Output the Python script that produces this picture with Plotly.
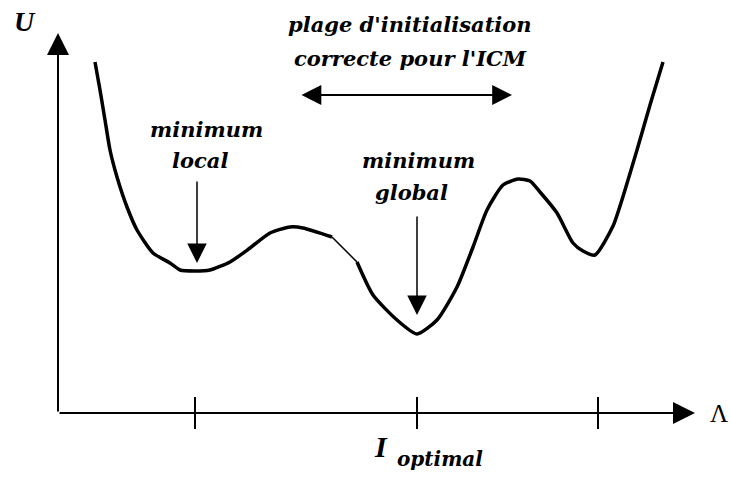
import plotly.graph_objects as go

# Energy curve U(Λ) — left branch, thin connecting segment, right branch
left_x = [37, 42, 47, 52, 59, 69, 79, 95, 112, 122, 137, 152, 172, 192, 212, 232, 245, 274]
left_u = [351, 323, 293, 263, 236, 206, 183, 160, 150, 143, 142, 143, 151, 165, 180, 186, 185, 176]
thin_x = [274, 299]
thin_u = [176, 151]
right_x = [299, 315, 339, 359, 379, 399, 415, 429, 445, 460, 472, 482, 499, 515, 525, 537,
           555, 567, 579, 592, 605]
right_u = [151, 118, 93, 79, 93, 126, 166, 203, 228, 234, 232, 221, 200, 170, 162, 158,
           187, 223, 263, 308, 351]

tick_positions = [137, 359, 540]
lambda_local_min = 139
lambda_global_min = 359
init_range = [242, 454]

SERIF = "Liberation Serif"
WIDE = "DejaVu Serif"
fig = go.Figure()

for xs, us, w in [(left_x, left_u, 3.5), (thin_x, thin_u, 1.5), (right_x, right_u, 3.5)]:
    fig.add_trace(go.Scatter(x=xs, y=us, mode="lines",
                             line=dict(color="black", width=w, shape="spline", smoothing=0.6),
                             hoverinfo="skip", showlegend=False))

fig.add_trace(go.Scatter(x=tick_positions, y=[0] * len(tick_positions), mode="markers",
                         marker=dict(symbol="line-ns", size=23, line=dict(color="black", width=2)),
                         hoverinfo="skip", showlegend=False))

def arrow(x0, y0, x1, y1, width=2, size=2.2, side="end"):
    fig.add_annotation(x=x1, y=y1, ax=x0, ay=y0, xref="x", yref="y", axref="x", ayref="y",
                       text="", showarrow=True, arrowhead=2, startarrowhead=2,
                       arrowwidth=width, arrowsize=size, startarrowsize=size,
                       arrowcolor="black", arrowside=side)

# axes
arrow(0, 0, 0, 380, width=2, size=2.2)
arrow(0, 0, 637, 0, width=2, size=2.2)
# range double arrow
arrow(init_range[0], 318, init_range[1], 318, width=1.8, size=2.2, side="end+start")
# minima arrows
arrow(lambda_local_min, 233, lambda_local_min, 150, width=1.5, size=2.6)
arrow(lambda_global_min, 198, lambda_global_min, 98, width=1.5, size=2.6)

def label(x, y, s, size=20, bold=True, italic=True, family=WIDE):
    fig.add_annotation(x=x, y=y, xref="x", yref="y", text=s, showarrow=False,
                       xanchor="center", yanchor="middle",
                       font=dict(family=family, size=size, color="black",
                                 weight="bold" if bold else "normal",
                                 style="italic" if italic else "normal"))

label(352, 389, "plage d'initialisation", size=21)
label(352, 355, "correcte pour l'ICM", size=21)
label(148, 284, "minimum", size=21)
label(142, 253, "local", size=21)
label(360, 253, "minimum", size=21)
label(353, 221, "global", size=21)
label(-33, 392, "U", size=28, family=SERIF)
label(661, 0, "Λ", size=25, bold=False, italic=False, family=SERIF)
label(323, -33, "I", size=30, family=SERIF)
label(382, -46, "optimal", size=20)

fig.update_layout(width=730, height=477, margin=dict(l=0, r=0, t=0, b=0),
                  paper_bgcolor="white", plot_bgcolor="white",
                  xaxis=dict(range=[-58, 672], visible=False, fixedrange=True),
                  yaxis=dict(range=[-64, 413], visible=False, fixedrange=True))
fig.write_html("out.html", config={"displayModeBar": False},
               post_script="document.body.style.margin='0';document.body.style.overflow='hidden';")
